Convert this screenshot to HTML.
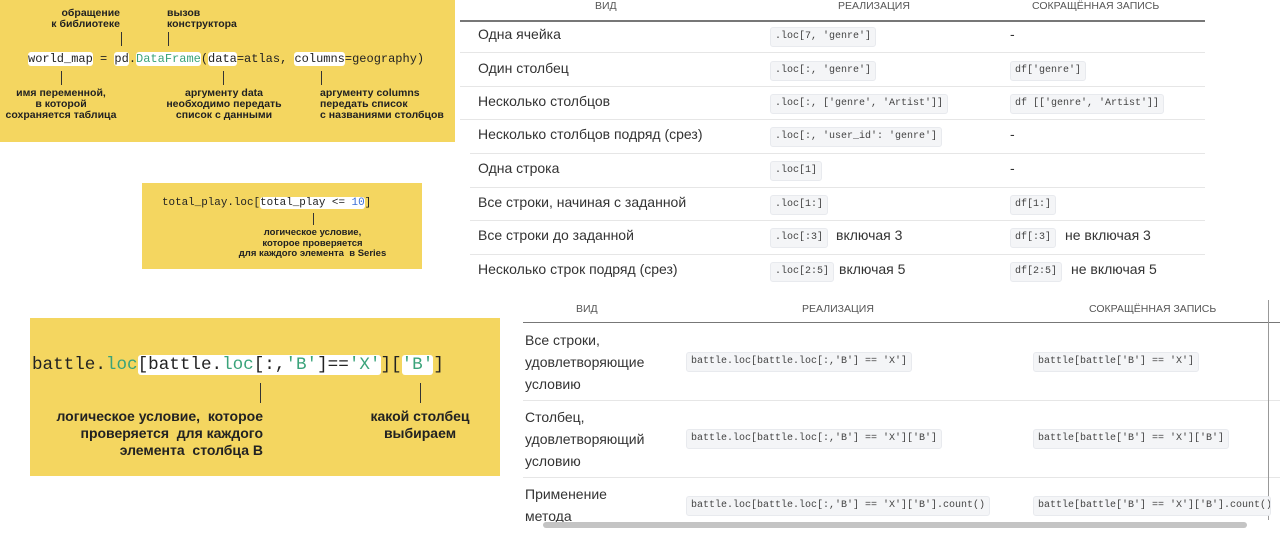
<!DOCTYPE html>
<html><head><meta charset="utf-8"><style>
body{margin:0;width:1280px;height:542px;background:#fff;position:relative;overflow:hidden;font-family:"Liberation Sans","DejaVu Sans",sans-serif;}
.a{position:absolute;}
.y{position:absolute;background:#f4d660;}
.m{font-family:"Liberation Mono","DejaVu Sans Mono",monospace;white-space:pre;}
.w{background:#fff;border-radius:3px;}
.g{color:#3aa37a;}
.b{color:#3b6fd6;}
.lbl{position:absolute;font-weight:bold;color:#222;font-size:10.5px;line-height:11px;}
.vl{position:absolute;width:1px;background:#333;}
.th{position:absolute;font-size:10.5px;color:#555;}
.td{position:absolute;font-size:14px;color:#333;}
.c{position:absolute;font-family:"Liberation Mono",monospace;font-size:10px;color:#444;background:#f4f5f7;border:1px solid #e8eaee;border-radius:3px;padding:3px 4px;white-space:pre;line-height:12px;}
.hl{position:absolute;height:1px;background:#e6e6e6;}
</style></head><body>

<!-- box 1 -->
<div class="y" style="left:0;top:0;width:455px;height:142px"></div>
<div class="lbl" style="left:50px;top:8px;text-align:right;width:70px">обращение<br>к библиотеке</div>
<div class="lbl" style="left:167px;top:8px">вызов<br>конструктора</div>
<div class="vl" style="left:121px;top:32px;height:14px"></div>
<div class="vl" style="left:168px;top:32px;height:14px"></div>
<div class="a m" style="left:28px;top:51px;font-size:12px;line-height:16px;color:#222"><span class="w">world_map</span> = <span class="w">pd</span>.<span class="w g">DataFrame</span>(<span class="w">data</span>=atlas, <span class="w">columns</span>=geography)</div>
<div class="vl" style="left:61px;top:71px;height:14px"></div>
<div class="vl" style="left:223px;top:71px;height:14px"></div>
<div class="vl" style="left:321px;top:71px;height:14px"></div>
<div class="lbl" style="left:0;top:88px;width:122px;text-align:center">имя переменной,<br>в которой<br>сохраняется таблица</div>
<div class="lbl" style="left:158px;top:88px;width:132px;text-align:center">аргументу data<br>необходимо передать<br>список с данными</div>
<div class="lbl" style="left:320px;top:88px">аргументу columns<br>передать список<br>с названиями столбцов</div>

<!-- box 2 -->
<div class="y" style="left:142px;top:183px;width:280px;height:86px"></div>
<div class="a m" style="left:162px;top:196px;font-size:10.9px;line-height:14px;color:#222">total_play.loc[<span class="w">total_play &lt;= <span class="b">10</span></span>]</div>
<div class="vl" style="left:313px;top:213px;height:12px"></div>
<div class="lbl" style="left:230px;top:228px;width:165px;text-align:center;font-size:9.5px;line-height:10.5px">логическое условие,<br>которое проверяется<br>для каждого элемента&nbsp; в Series</div>

<!-- box 3 -->
<div class="y" style="left:30px;top:318px;width:470px;height:158px"></div>
<div class="a m" style="left:32px;top:353px;font-size:17.6px;line-height:24px;color:#222">battle.<span class="g">loc</span><span class="w">[battle.<span class="g">loc</span>[:,<span class="g">'B'</span>]==<span class="g">'X'</span></span>][<span class="w g">'B'</span>]</div>
<div class="vl" style="left:260px;top:383px;height:20px"></div>
<div class="vl" style="left:420px;top:383px;height:20px"></div>
<div class="lbl" style="left:20px;top:408px;width:243px;text-align:right;font-size:14px;line-height:17px">логическое условие,&nbsp; которое<br>проверяется&nbsp; для каждого<br>элемента&nbsp; столбца В</div>
<div class="lbl" style="left:350px;top:408px;width:140px;text-align:center;font-size:14px;line-height:17px">какой столбец<br>выбираем</div>

<!-- table 1 -->
<div class="th" style="left:595px;top:0">ВИД</div>
<div class="th" style="left:838px;top:0">РЕАЛИЗАЦИЯ</div>
<div class="th" style="left:1032px;top:0">СОКРАЩЁННАЯ ЗАПИСЬ</div>
<div class="a" style="left:460px;top:20px;width:745px;height:2px;background:#777"></div>
<div class="hl" style="left:460px;top:52px;width:745px"></div>
<div class="hl" style="left:460px;top:86px;width:745px"></div>
<div class="hl" style="left:460px;top:119px;width:745px"></div>
<div class="hl" style="left:470px;top:153px;width:735px"></div>
<div class="hl" style="left:470px;top:187px;width:735px"></div>
<div class="hl" style="left:470px;top:220px;width:735px"></div>
<div class="hl" style="left:470px;top:254px;width:735px"></div>

<div class="td" style="left:478px;top:26px">Одна ячейка</div>
<div class="c" style="left:770px;top:27px">.loc[7, 'genre']</div>
<div class="td" style="left:1010px;top:26px">-</div>

<div class="td" style="left:478px;top:60px">Один столбец</div>
<div class="c" style="left:770px;top:61px">.loc[:, 'genre']</div>
<div class="c" style="left:1010px;top:61px">df['genre']</div>

<div class="td" style="left:478px;top:93px">Несколько столбцов</div>
<div class="c" style="left:770px;top:94px">.loc[:, ['genre', 'Artist']]</div>
<div class="c" style="left:1010px;top:94px">df [['genre', 'Artist']]</div>

<div class="td" style="left:478px;top:126px">Несколько столбцов подряд (срез)</div>
<div class="c" style="left:770px;top:127px">.loc[:, 'user_id': 'genre']</div>
<div class="td" style="left:1010px;top:126px">-</div>

<div class="td" style="left:478px;top:160px">Одна строка</div>
<div class="c" style="left:770px;top:161px">.loc[1]</div>
<div class="td" style="left:1010px;top:160px">-</div>

<div class="td" style="left:478px;top:194px">Все строки, начиная с заданной</div>
<div class="c" style="left:770px;top:195px">.loc[1:]</div>
<div class="c" style="left:1010px;top:195px">df[1:]</div>

<div class="td" style="left:478px;top:227px">Все строки до заданной</div>
<div class="c" style="left:770px;top:228px">.loc[:3]</div>
<div class="td" style="left:836px;top:227px">включая 3</div>
<div class="c" style="left:1010px;top:228px">df[:3]</div>
<div class="td" style="left:1065px;top:227px">не включая 3</div>

<div class="td" style="left:478px;top:261px">Несколько строк подряд (срез)</div>
<div class="c" style="left:770px;top:262px">.loc[2:5]</div>
<div class="td" style="left:839px;top:261px">включая 5</div>
<div class="c" style="left:1010px;top:262px">df[2:5]</div>
<div class="td" style="left:1071px;top:261px">не включая 5</div>

<!-- table 2 -->
<div class="th" style="left:576px;top:303px">ВИД</div>
<div class="th" style="left:802px;top:303px">РЕАЛИЗАЦИЯ</div>
<div class="th" style="left:1089px;top:303px">СОКРАЩЁННАЯ ЗАПИСЬ</div>
<div class="a" style="left:523px;top:322px;width:757px;height:1px;background:#777"></div>
<div class="hl" style="left:523px;top:400px;width:757px"></div>
<div class="hl" style="left:523px;top:477px;width:757px"></div>
<div class="a" style="left:1268px;top:300px;width:1px;height:220px;background:#999"></div>

<div class="td" style="left:525px;top:329px;line-height:22px">Все строки,<br>удовлетворяющие<br>условию</div>
<div class="c" style="left:686px;top:352px">battle.loc[battle.loc[:,'B'] == 'X']</div>
<div class="c" style="left:1033px;top:352px">battle[battle['B'] == 'X']</div>

<div class="td" style="left:525px;top:406px;line-height:22px">Столбец,<br>удовлетворяющий<br>условию</div>
<div class="c" style="left:686px;top:429px">battle.loc[battle.loc[:,'B'] == 'X']['B']</div>
<div class="c" style="left:1033px;top:429px">battle[battle['B'] == 'X']['B']</div>

<div class="td" style="left:525px;top:483px;line-height:22px">Применение<br>метода</div>
<div class="c" style="left:686px;top:496px">battle.loc[battle.loc[:,'B'] == 'X']['B'].count()</div>
<div class="c" style="left:1033px;top:496px;width:228px;overflow:hidden">battle[battle['B'] == 'X']['B'].count()</div>

<div class="a" style="left:543px;top:522px;width:704px;height:6px;border-radius:3px;background:#c4c4c4"></div>
</body></html>
